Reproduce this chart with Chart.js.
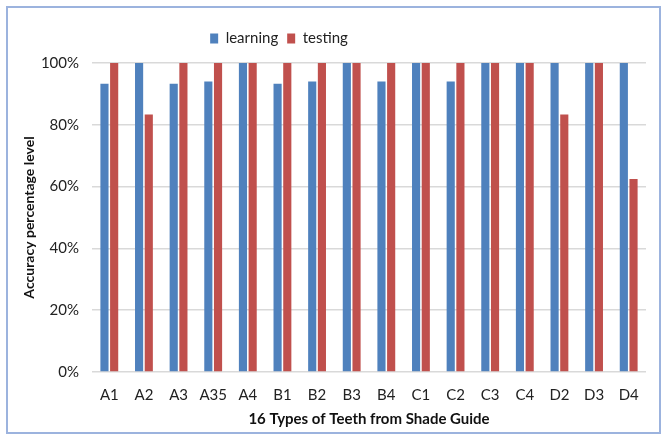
<!DOCTYPE html>
<html lang="en">
<head>
  <meta charset="UTF-8" />
  <title>Accuracy per shade</title>
  <script src="https://cdn.jsdelivr.net/npm/chart.js"></script>
  <style>
    body { margin: 0; background: #fff; }
    #wrap { position: relative; width: 662px; height: 435px; }
    #frame { position: absolute; left: 6px; top: 6px; width: 651px; height: 424px; border: 2px solid #9cb3de; pointer-events: none; }
    canvas { position: absolute; left: 0; top: 0; }
  </style>
</head>
<body>
  <div id="wrap">
    <canvas id="chart" width="662" height="435"></canvas>
    <div id="frame"></div>
  </div>

  <script>
    const shades = ['A1', 'A2', 'A3', 'A35', 'A4', 'B1', 'B2', 'B3', 'B4', 'C1', 'C2', 'C3', 'C4', 'D2', 'D3', 'D4'];
    const learning = [93.3, 100, 93.3, 94, 100, 93.3, 94, 100, 94, 100, 94, 100, 100, 100, 100, 100];
    const testing = [100, 83.3, 100, 100, 100, 100, 100, 100, 100, 100, 100, 100, 100, 83.3, 100, 62.5];
    const yTicks = [0, 20, 40, 60, 80, 100];

    const font = 'Lato, "Open Sans", sans-serif';

    // legend in the original sits left of the plot centre and has a gap under it
    const legendTweak = {
      id: 'legendTweak',
      beforeInit(chart) {
        const lg = chart.legend;
        const fit = lg.fit;
        lg.fit = function () { fit.call(this); this.height += 7; };
      },
      afterLayout(chart) {
        const lg = chart.legend;
        const w = lg.right - lg.left;
        lg.left = 279 - w / 2;
        lg.right = 279 + w / 2;
      }
    };

    new Chart(document.getElementById('chart'), {
      type: 'bar',
      data: {
        labels: shades,
        datasets: [
          { label: 'learning', data: learning, backgroundColor: '#4f81bd', borderWidth: 0 },
          { label: 'testing', data: testing, backgroundColor: '#c0504d', borderWidth: 0 }
        ]
      },
      options: {
        responsive: false,
        animation: false,
        devicePixelRatio: 1,
        layout: { padding: { left: 8, right: 16, top: 22, bottom: 4 } },
        datasets: { bar: { categoryPercentage: 0.56, barPercentage: 0.84 } },
        plugins: {
          tooltip: { enabled: false },
          legend: {
            position: 'top',
            labels: {
              font: { family: font, size: 15 },
              color: '#222',
              boxWidth: 8,
              boxHeight: 10,
              padding: 9
            }
          }
        },
        scales: {
          x: {
            grid: { display: false, drawTicks: false },
            border: { display: false },
            ticks: { font: { family: font, size: 15 }, color: '#222', padding: 14, autoSkip: false, maxRotation: 0 },
            title: {
              display: true,
              text: '16 Types of Teeth from Shade Guide',
              font: { family: font, size: 15, weight: 'bold' },
              color: '#111',
              padding: { top: 2, bottom: 3 }
            },
            afterFit(scale) { scale.height = 59; }
          },
          y: {
            min: 0,
            max: 100,
            afterBuildTicks(scale) { scale.ticks = yTicks.map(v => ({ value: v })); },
            grid: { color: '#d9d9d9', lineWidth: 1.5, drawTicks: false },
            border: { display: false },
            ticks: {
              font: { family: font, size: 15 },
              color: '#222',
              padding: 13,
              callback: v => v + '%'
            },
            title: {
              display: true,
              text: 'Accuracy percentage level',
              font: { family: font, size: 14, weight: 'bold' },
              color: '#111',
              padding: { top: 13, bottom: 0 }
            },
            afterFit(scale) { scale.width = 84; }
          }
        }
      },
      plugins: [legendTweak]
    });
  </script>
</body>
</html>
